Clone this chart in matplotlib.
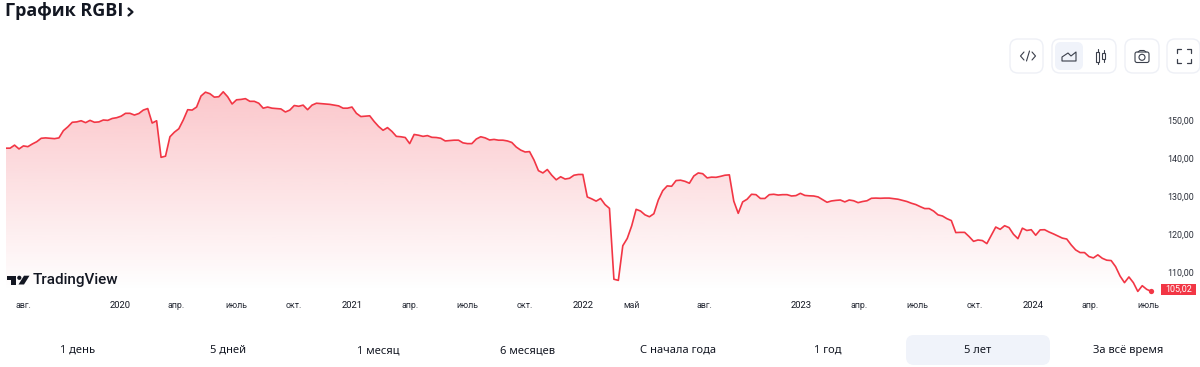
import numpy as np
import matplotlib
matplotlib.use('Agg')
import matplotlib.pyplot as plt
from matplotlib.patches import FancyBboxPatch, Polygon, Rectangle, Circle

plt.rcParams['font.family'] = ['Noto Sans', 'DejaVu Sans']

# weekly closes
values = [
    142.6, 142.6, 143.4, 142.4, 143.2, 143.0, 143.7, 144.3, 145.2, 145.3,
    145.2, 145.1, 145.3, 147.2, 148.2, 149.4, 149.5, 149.8, 149.3, 149.9,
    149.4, 149.5, 150.0, 149.9, 150.4, 150.6, 151.0, 151.75, 151.75, 151.3,
    151.7, 152.6, 153.0, 149.2, 149.8, 140.2, 140.5, 145.6, 146.8, 147.7,
    150.0, 152.7, 152.6, 153.4, 156.3, 157.3, 156.9, 156.0, 156.1, 157.4,
    156.1, 154.2, 155.3, 155.4, 155.6, 154.9, 154.9, 154.4, 153.1, 153.4,
    153.1, 153.0, 152.9, 152.1, 152.6, 153.8, 153.6, 153.9, 152.7, 153.9,
    154.4, 154.3, 154.2, 154.1, 153.9, 153.7, 153.1, 153.1, 153.4, 151.75,
    150.9, 151.0, 151.1, 149.6, 148.3, 147.3, 148.0, 147.0, 145.7,
    145.6, 145.4, 143.8, 146.2, 146.0, 145.7, 145.9, 145.45, 145.4, 145.2,
    144.5, 144.6, 144.7, 144.7, 144.0, 143.8, 143.8, 145.0, 145.6, 145.3,
    144.75, 144.9, 144.7, 144.7, 144.5, 144.1, 142.9, 142.1, 141.6, 141.7,
    139.5, 136.7, 136.1, 137.0, 135.5, 134.3, 135.1, 134.5, 134.7, 135.5,
    135.7, 135.7, 129.8, 129.3, 128.7, 129.4, 127.8, 126.8, 108.2, 107.9,
    117.0, 118.9, 122.2, 126.55, 126.1, 125.1, 124.6, 125.4, 129.0, 131.45,
    132.7, 132.6, 134.1, 134.2, 133.9, 133.4, 135.3, 136.1, 135.9, 134.8,
    135.0, 134.95, 135.2, 135.5, 135.6, 128.7, 125.5, 128.5, 129.2, 130.5,
    130.4, 129.4, 129.4, 130.4, 130.5, 130.3, 130.4, 130.4, 130.05, 130.15,
    130.75, 130.2, 130.1, 130.05, 129.8, 129.1, 128.4, 128.75, 128.9, 129.0,
    128.5, 129.0, 128.8, 128.3, 128.6, 128.8, 129.45, 129.5, 129.45, 129.5,
    129.5, 129.35, 129.2, 128.9, 128.6, 128.15, 127.8, 127.25, 126.75, 126.75,
    126.1, 125.1, 124.8, 124.1, 123.6, 120.45, 120.5, 120.5, 119.4, 118.15,
    118.5, 118.35, 117.55, 119.75, 121.9, 121.3, 122.25, 121.75, 120.0, 118.85,
    121.6, 121.0, 121.2, 119.75, 121.15, 121.2, 120.6, 120.1, 119.55, 119.0,
    118.75, 117.2, 115.9, 115.2, 115.2, 114.15, 113.8, 114.6, 113.7, 113.2,
    113.1, 111.5, 109.05, 107.3, 108.8, 107.3, 105.0, 106.5, 105.55, 105.02,
]
last_label = '105,02'

y_ticks = [110, 120, 130, 140, 150]
# the axis counts bars, not calendar days (the market was shut in spring 2022)
x_ticks = [3.9, 25.8, 38.5, 52, 65, 78, 91, 104, 117, 130, 141, 157.5, 179.2, 192.2, 205.3, 218.4, 231.4, 244.3, 257.3]
x_labels = ['авг.', '2020', 'апр.', 'июль', 'окт.', '2021', 'апр.', 'июль', 'окт.', '2022', 'май', 'авг.',
            '2023', 'апр.', 'июль', 'окт.', '2024', 'апр.', 'июль']
year_labels = ['2020', '2021', '2022', '2023', '2024']

ranges = ['1 день', '5 дней', '1 месяц', '6 месяцев', 'С начала года', '1 год', '5 лет', 'За всё время']

W, H = 1200, 367
RED = '#F23645'
INK = '#131722'
BORDER = '#EEF0F6'

fig = plt.figure(figsize=(W / 100, H / 100), dpi=100, facecolor='white')

# chart
ax = fig.add_axes([5.67 / W, (H - 296) / H, (1160 - 5.67) / W, (296 - 70) / H])
x = np.arange(len(values))
for s in ax.spines.values():
    s.set_visible(False)

# gradient under the line
grad = np.zeros((256, 1, 4))
grad[:, 0, :3] = matplotlib.colors.to_rgb(RED)
grad[:, 0, 3] = np.linspace(0.28, 0.0, 256)
top_v = max(values)
im = ax.imshow(grad, aspect='auto', extent=(0, 260, 105, top_v), origin='upper', zorder=1)
poly = ax.fill_between(x, values, 103.8, facecolor='none', edgecolor='none')
im.set_clip_path(poly.get_paths()[0], transform=ax.transData)
ax.set_xlim(0, 260)
ax.set_ylim(103.8, 163.12)

ax.plot(x, values, color=RED, lw=1.2, zorder=3, solid_joinstyle='round')
ax.plot(x[-1], values[-1], 'o', color=RED, ms=3.8, mew=0, zorder=4, clip_on=False)

ax.yaxis.tick_right()
ax.set_yticks(y_ticks)
ax.set_yticklabels([f'{t},00' for t in y_ticks], family=['Roboto', 'DejaVu Sans'])
ax.tick_params(axis='y', length=0, pad=5, labelsize=6.4, labelcolor='#2A2E39')
ax.set_xticks(x_ticks)
ax.set_xticklabels(x_labels, family=['Roboto', 'DejaVu Sans'])
ax.tick_params(axis='x', length=0, pad=3.6, labelsize=6.4, labelcolor='#2A2E39')
for lab in ax.get_xticklabels():
    if lab.get_text() in year_labels:
        lab.set_fontsize(6.8)
        lab.set_color(INK)

# overlay in pixels for the page furniture around the chart
ui = fig.add_axes([0, 0, 1, 1], facecolor='none')
ui.set_xlim(0, W)
ui.set_ylim(H, 0)
ui.axis('off')


def box(x0, y0, x1, y1, r, fc='white', ec='none', lw=1.0):
    ui.add_patch(FancyBboxPatch((x0 + r, y0 + r), x1 - x0 - 2 * r, y1 - y0 - 2 * r,
                                boxstyle=f'round,pad={r},rounding_size={r}', fc=fc, ec=ec, lw=lw))


def stroke(xs, ys, lw=1.0, c=INK):
    ui.plot(xs, ys, color=c, lw=lw, solid_capstyle='round', solid_joinstyle='round')


# title
ui.text(5, 11, 'График RGBI', fontsize=13, fontweight='bold', color=INK, va='center', ha='left',
        family=['Open Sans', 'DejaVu Sans'])
stroke([128.5, 132.5, 128.5], [8.5, 12, 15.5], lw=1.6)

# price tag
ui.add_patch(Rectangle((1161, 284), 35, 11, fc=RED, ec='none'))
ui.text(1178.5, 289.6, last_label, color='white', fontsize=6.4, ha='center', va='center',
        family=['Roboto', 'DejaVu Sans'])

# toolbar
box(1010, 39, 1043, 73, 8, ec=BORDER)
box(1052, 39, 1116, 73, 8, ec=BORDER)
box(1055, 42, 1083, 70, 6, fc='#F0F3FA')
box(1125, 39, 1159, 73, 8, ec=BORDER)
box(1167, 39, 1200, 73, 8, ec=BORDER)
GREY = '#3A3F4B'
# </>
stroke([1024, 1020.5, 1024], [52, 56, 60], lw=0.8, c=GREY)
stroke([1032, 1035.5, 1032], [52, 56, 60], lw=0.8, c=GREY)
stroke([1026.5, 1029.5], [61, 51], lw=0.8, c=GREY)
# area icon
ui.add_patch(Polygon([(1062, 61), (1062, 57), (1068, 53), (1071, 56), (1076, 52), (1076, 61)],
                     fc='none', ec=GREY, lw=0.8, joinstyle='round'))
# candles
ui.add_patch(Rectangle((1096, 51.5), 3, 10, fc='white', ec=GREY, lw=0.8))
stroke([1097.5, 1097.5], [49, 51.5], lw=0.8, c=GREY)
stroke([1097.5, 1097.5], [61.5, 64], lw=0.8, c=GREY)
ui.add_patch(Rectangle((1102, 53), 3, 6, fc='white', ec=GREY, lw=0.8))
stroke([1103.5, 1103.5], [50, 53], lw=0.8, c=GREY)
stroke([1103.5, 1103.5], [59, 62], lw=0.8, c=GREY)
# camera
box(1135, 52, 1149, 62.5, 2, ec=GREY, lw=0.8)
ui.add_patch(Circle((1142, 57.3), 3, fc='white', ec=GREY, lw=0.8))
stroke([1138, 1140, 1144, 1146], [52, 50.5, 50.5, 52], lw=0.8, c=GREY)
# fullscreen corners
for cx, cy, sx, sy in [(1177, 49, 1, 1), (1191, 49, -1, 1), (1177, 63, 1, -1), (1191, 63, -1, -1)]:
    stroke([cx, cx, cx + 4 * sx], [cy + 4 * sy, cy, cy], lw=0.9, c=GREY)

# logo
ui.add_patch(Polygon([(7, 275.7), (16, 275.7), (16, 284.5), (11, 284.5), (11, 279.5), (7, 279.5)], fc=INK, ec='none'))
ui.add_patch(Circle((19.3, 277.8), 2.1, fc=INK, ec='none'))
ui.add_patch(Polygon([(24, 275.7), (29.5, 275.7), (24, 284.5), (18.5, 284.5)], fc=INK, ec='none'))
ui.text(33, 280, 'TradingView', fontsize=11, fontweight='medium', color=INK, va='center', ha='left',
        family=['Roboto', 'DejaVu Sans'])

# range buttons
box(906, 335, 1050, 365, 8, fc='#F0F3FA')
for i, name in enumerate(ranges):
    ui.text(78 + 150 * i, 350.5, name, fontsize=8.0, color=INK, ha='center', va='center')

fig.savefig('out.png', dpi=100, facecolor='white')
